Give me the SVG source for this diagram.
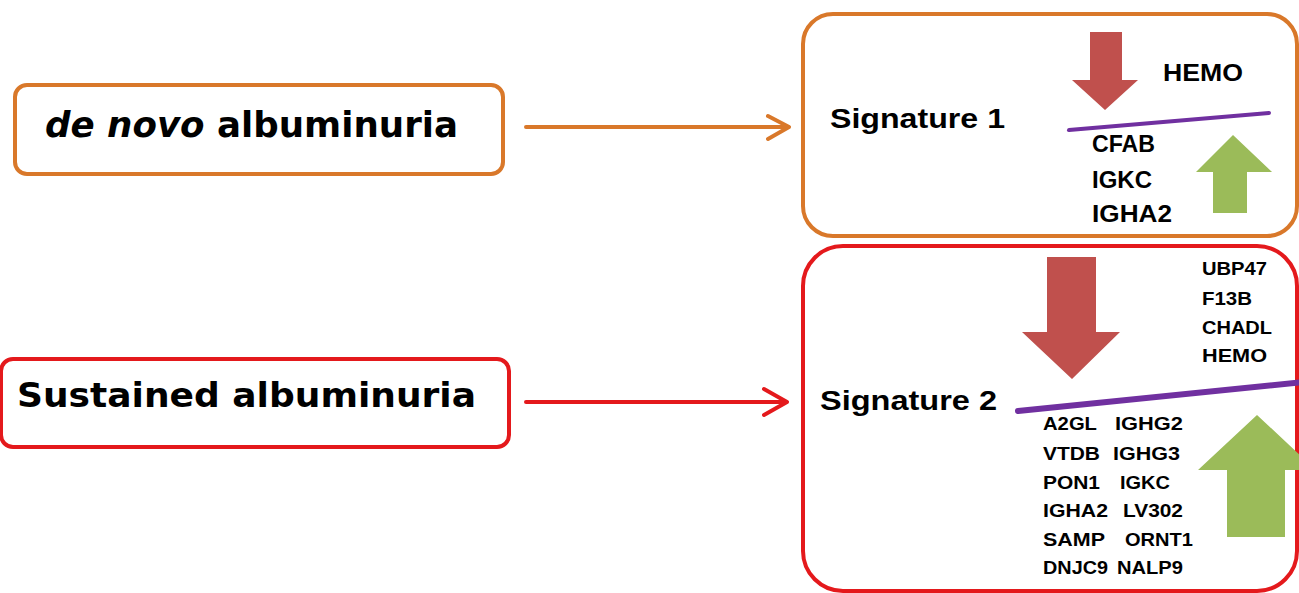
<svg xmlns="http://www.w3.org/2000/svg" width="1299" height="593" viewBox="0 0 1299 593">
<style>
.box{fill:#fff;stroke-width:4}
.or{stroke:#D9782A}
.rd{stroke:#E4191C}
.lbl{font-family:"DejaVu Sans",Verdana,sans-serif;font-weight:bold;fill:#000}
.sig{font-family:"Liberation Sans",Arial,sans-serif;font-weight:bold;font-size:28px;fill:#000}
.gene{font-family:"Liberation Sans",Arial,sans-serif;font-weight:900;fill:#000}
.conn{fill:none;stroke-width:4;stroke-linecap:round;stroke-linejoin:round}
.down{fill:#C0504D}
.up{fill:#9BBB59}
.sep{stroke:#7030A0;stroke-linecap:round}
</style>
<rect width="1299" height="593" fill="#fff"/>
<g id="connectors">
<path class="conn" d="M526 127 H788 M768 116 L789 127 L768 139" stroke="#D9782A"/>
<path class="conn" d="M526 402 H786 M764 389 L787 402 L764 415" stroke="#E4191C"/>
</g>
<g id="denovo">
<rect class="box or" x="15" y="85" width="488" height="89" rx="12"/>
<text class="lbl" x="45" y="137" font-size="35" textLength="413" lengthAdjust="spacingAndGlyphs"><tspan font-style="italic">de novo</tspan> albuminuria</text>
</g>
<g id="sustained">
<rect class="box rd" x="1" y="359" width="508" height="88" rx="12"/>
<text class="lbl" x="17" y="407" font-size="34" textLength="459" lengthAdjust="spacingAndGlyphs">Sustained  albuminuria</text>
</g>
<g id="signature1">
<rect class="box or" x="803" y="14" width="494" height="222" rx="30"/>
<text class="sig" x="830" y="128" textLength="175" lengthAdjust="spacingAndGlyphs">Signature 1</text>
<polygon class="down" points="1090,32 1122,32 1122,80 1138,80 1105,110 1072,80 1090,80"/>
<line class="sep" x1="1069" y1="130" x2="1269" y2="113" stroke-width="4"/>
<polygon class="up" points="1233,135 1272,172 1247,172 1247,213 1213,213 1213,172 1196,172"/>
<text class="gene" x="1163" y="81" font-size="23" textLength="80" lengthAdjust="spacingAndGlyphs">HEMO</text>
<text class="gene" x="1092" y="152" font-size="23" textLength="63" lengthAdjust="spacingAndGlyphs">CFAB</text>
<text class="gene" x="1092" y="188" font-size="23" textLength="60" lengthAdjust="spacingAndGlyphs">IGKC</text>
<text class="gene" x="1092" y="222" font-size="23" textLength="80" lengthAdjust="spacingAndGlyphs">IGHA2</text>
</g>
<g id="signature2">
<rect class="box rd" x="803" y="246" width="494" height="345" rx="40"/>
<text class="sig" x="820" y="410" textLength="177" lengthAdjust="spacingAndGlyphs">Signature 2</text>
<polygon class="down" points="1047,257 1096,257 1096,332 1120,332 1072,379 1022,332 1047,332"/>
<line class="sep" x1="1018" y1="411" x2="1305" y2="382" stroke-width="6"/>
<polygon class="up" points="1257,415 1316,470 1285,470 1285,537 1227,537 1227,470 1198,470"/>
<g font-size="19">
<text class="gene" x="1202" y="275" textLength="65" lengthAdjust="spacingAndGlyphs">UBP47</text>
<text class="gene" x="1202" y="305" textLength="50" lengthAdjust="spacingAndGlyphs">F13B</text>
<text class="gene" x="1202" y="334" textLength="70" lengthAdjust="spacingAndGlyphs">CHADL</text>
<text class="gene" x="1202" y="362" textLength="65" lengthAdjust="spacingAndGlyphs">HEMO</text>
<text class="gene" x="1043" y="430" textLength="54" lengthAdjust="spacingAndGlyphs">A2GL</text>
<text class="gene" x="1043" y="460" textLength="57" lengthAdjust="spacingAndGlyphs">VTDB</text>
<text class="gene" x="1043" y="489" textLength="57" lengthAdjust="spacingAndGlyphs">PON1</text>
<text class="gene" x="1043" y="517" textLength="65" lengthAdjust="spacingAndGlyphs">IGHA2</text>
<text class="gene" x="1043" y="546" textLength="62" lengthAdjust="spacingAndGlyphs">SAMP</text>
<text class="gene" x="1043" y="574" textLength="65" lengthAdjust="spacingAndGlyphs">DNJC9</text>
<text class="gene" x="1115" y="430" textLength="68" lengthAdjust="spacingAndGlyphs">IGHG2</text>
<text class="gene" x="1113" y="460" textLength="67" lengthAdjust="spacingAndGlyphs">IGHG3</text>
<text class="gene" x="1120" y="489" textLength="50" lengthAdjust="spacingAndGlyphs">IGKC</text>
<text class="gene" x="1123" y="517" textLength="60" lengthAdjust="spacingAndGlyphs">LV302</text>
<text class="gene" x="1125" y="546" textLength="68" lengthAdjust="spacingAndGlyphs">ORNT1</text>
<text class="gene" x="1117" y="574" textLength="66" lengthAdjust="spacingAndGlyphs">NALP9</text>
</g>
</g>
</svg>
